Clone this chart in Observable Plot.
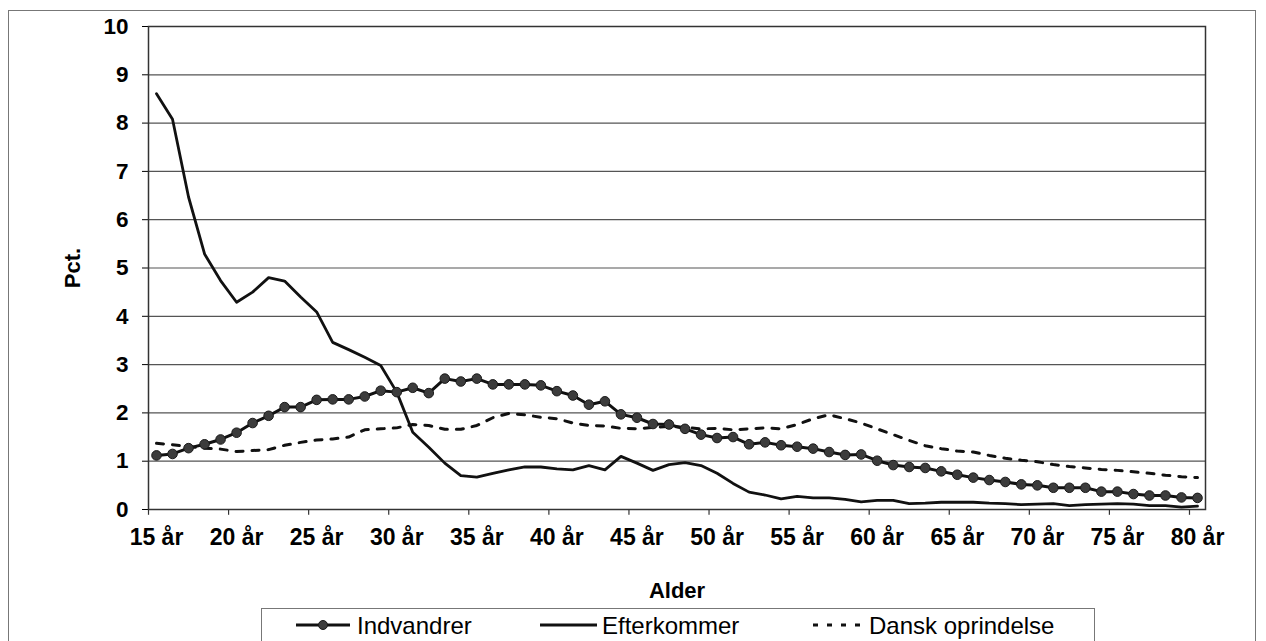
<!DOCTYPE html>
<html>
<head>
<meta charset="utf-8">
<script src="https://cdn.jsdelivr.net/npm/d3@7"></script>
<script src="https://cdn.jsdelivr.net/npm/@observablehq/plot@0.6"></script>
<style>
  html, body { margin: 0; padding: 0; background: #fff; width: 1266px; height: 641px; overflow: hidden; }
  body { position: relative; font-family: "Liberation Sans", Arial, sans-serif; }
  #frame { position: absolute; left: 8px; top: 10px; width: 1248px; height: 700px; border: 1.5px solid #777; box-sizing: border-box; }
  #chart { position: absolute; left: 0; top: 0; }
  #legend { position: absolute; left: 261px; top: 608px; width: 834px; height: 50px; border: 1.5px solid #777; box-sizing: border-box; background: #fff; }
  #legend svg { position: absolute; left: 0; top: 0; }
</style>
</head>
<body>
<div id="frame"></div>
<div id="chart"></div>
<div id="legend"></div>
<script>
// ---- data ----
const ages = [15,16,17,18,19,20,21,22,23,24,25,26,27,28,29,30,31,32,33,34,35,36,37,38,39,40,
  41,42,43,44,45,46,47,48,49,50,51,52,53,54,55,56,57,58,59,60,61,62,63,64,65,66,67,68,69,70,
  71,72,73,74,75,76,77,78,79,80];

const indvandrer = [1.12,1.15,1.27,1.35,1.45,1.59,1.79,1.94,2.12,2.12,2.27,2.28,2.28,2.34,2.46,2.43,
  2.52,2.41,2.71,2.65,2.71,2.59,2.59,2.59,2.57,2.45,2.36,2.17,2.24,1.97,1.90,1.77,1.76,1.67,1.55,1.48,
  1.50,1.35,1.39,1.33,1.30,1.26,1.19,1.13,1.14,1.01,0.92,0.88,0.86,0.79,0.72,0.66,0.61,0.57,0.52,0.50,
  0.45,0.45,0.45,0.37,0.37,0.32,0.29,0.29,0.25,0.24];

const efterkommer = [8.61,8.08,6.47,5.29,4.74,4.29,4.50,4.80,4.73,4.40,4.09,3.46,3.31,3.15,2.98,2.43,
  1.60,1.29,0.96,0.70,0.67,0.75,0.82,0.88,0.88,0.84,0.82,0.91,0.82,1.10,0.96,0.81,0.93,0.97,0.91,0.75,
  0.54,0.36,0.30,0.22,0.27,0.24,0.24,0.21,0.16,0.19,0.19,0.12,0.13,0.15,0.15,0.15,0.13,0.12,0.10,0.11,
  0.12,0.08,0.10,0.11,0.12,0.11,0.08,0.08,0.05,0.07];

const dansk = [1.37,1.34,1.30,1.27,1.25,1.20,1.22,1.24,1.33,1.39,1.44,1.46,1.50,1.65,1.67,1.69,
  1.76,1.74,1.66,1.66,1.74,1.90,1.99,1.96,1.91,1.88,1.79,1.74,1.73,1.68,1.67,1.70,1.72,1.70,1.67,1.68,
  1.65,1.67,1.69,1.67,1.76,1.88,1.96,1.88,1.79,1.67,1.55,1.43,1.32,1.26,1.21,1.19,1.12,1.06,1.02,0.99,
  0.93,0.89,0.86,0.83,0.81,0.78,0.75,0.71,0.68,0.66];

const seriesNames = ["Indvandrer", "Efterkommer", "Dansk oprindelse"];
const xTickAges = [15,20,25,30,35,40,45,50,55,60,65,70,75,80];
const xTickLabels = ["15 år","20 år","25 år","30 år","35 år","40 år","45 år","50 år","55 år","60 år","65 år","70 år","75 år","80 år"];
const xTickBoundaries = [14.5,19.5,24.5,29.5,34.5,39.5,44.5,49.5,54.5,59.5,64.5,69.5,74.5,79.5];
const yTicks = [0,1,2,3,4,5,6,7,8,9,10];
const yGrid = [1,2,3,4,5,6,7,8,9,10];
const xTitle = "Alder";
const yTitle = "Pct.";

// ---- tables ----
const rowsInd = ages.map((a, i) => ({age: a, value: indvandrer[i]}));
const rowsEft = ages.map((a, i) => ({age: a, value: efterkommer[i]}));
const rowsDan = ages.map((a, i) => ({age: a, value: dansk[i]}));

const font = "'Liberation Sans', Arial, sans-serif";

const chart = Plot.plot({
  width: 1266,
  height: 606,
  marginLeft: 148,
  marginRight: 61,
  marginTop: 26,
  marginBottom: 97,
  style: {fontFamily: font, color: "#000", background: "transparent", overflow: "visible"},
  x: {type: "linear", domain: [14.5, 80.5]},
  y: {domain: [0, 10]},
  marks: [
    Plot.ruleY(yGrid, {stroke: "#555", strokeWidth: 1.2}),
    Plot.axisY(yTicks, {tickSize: 6, tickPadding: 14, fontSize: 22.5, fontWeight: "bold", label: null, tickFormat: d => String(d)}),
    Plot.axisX(xTickAges, {tickSize: 0, tickPadding: 19, fontSize: 23, fontWeight: "bold", label: null,
      tickFormat: d => xTickLabels[xTickAges.indexOf(d)]}),
    Plot.ruleX(xTickBoundaries, {y1: 0, y2: -0.12, stroke: "#333", strokeWidth: 1.2}),
    Plot.frame({stroke: "#333", strokeWidth: 1.5}),
    Plot.line(rowsDan, {x: "age", y: "value", stroke: "#111", strokeWidth: 3, strokeDasharray: "7,9"}),
    Plot.line(rowsEft, {x: "age", y: "value", stroke: "#111", strokeWidth: 2.8}),
    Plot.line(rowsInd, {x: "age", y: "value", stroke: "#111", strokeWidth: 3}),
    Plot.dot(rowsInd, {x: "age", y: "value", r: 4.8, fill: "#3c3c3c", stroke: "#1a1a1a", strokeWidth: 1}),
    Plot.text([yTitle], {frameAnchor: "left", dx: -76, rotate: -90, textAnchor: "middle", lineAnchor: "middle",
      fontSize: 22, fontWeight: "bold", fill: "#000"}),
    Plot.text([xTitle], {frameAnchor: "bottom", dy: 81, textAnchor: "middle", lineAnchor: "middle",
      fontSize: 22, fontWeight: "bold", fill: "#000"})
  ]
});
document.getElementById("chart").appendChild(chart);

// ---- legend (below the chart) ----
const ns = "http://www.w3.org/2000/svg";
const lg = document.createElementNS(ns, "svg");
lg.setAttribute("width", 834);
lg.setAttribute("height", 50);
const items = [
  {name: seriesNames[0], x0: 34, x1: 88, dash: null, dot: true, tx: 95},
  {name: seriesNames[1], x0: 278, x1: 335, dash: null, dot: false, tx: 340},
  {name: seriesNames[2], x0: 551, x1: 600, dash: "5,9", dot: false, tx: 607}
];
for (const it of items) {
  const ln = document.createElementNS(ns, "line");
  ln.setAttribute("x1", it.x0); ln.setAttribute("x2", it.x1);
  ln.setAttribute("y1", 16); ln.setAttribute("y2", 16);
  ln.setAttribute("stroke", "#111"); ln.setAttribute("stroke-width", 3);
  if (it.dash) ln.setAttribute("stroke-dasharray", it.dash);
  lg.appendChild(ln);
  if (it.dot) {
    const c = document.createElementNS(ns, "circle");
    c.setAttribute("cx", (it.x0 + it.x1) / 2); c.setAttribute("cy", 16); c.setAttribute("r", 4.5);
    c.setAttribute("fill", "#3c3c3c"); c.setAttribute("stroke", "#1a1a1a");
    lg.appendChild(c);
  }
  const t = document.createElementNS(ns, "text");
  t.setAttribute("x", it.tx); t.setAttribute("y", 24.5);
  t.setAttribute("font-family", font); t.setAttribute("font-size", 24);
  t.setAttribute("fill", "#000");
  t.textContent = it.name;
  lg.appendChild(t);
}
document.getElementById("legend").appendChild(lg);
</script>
</body>
</html>
